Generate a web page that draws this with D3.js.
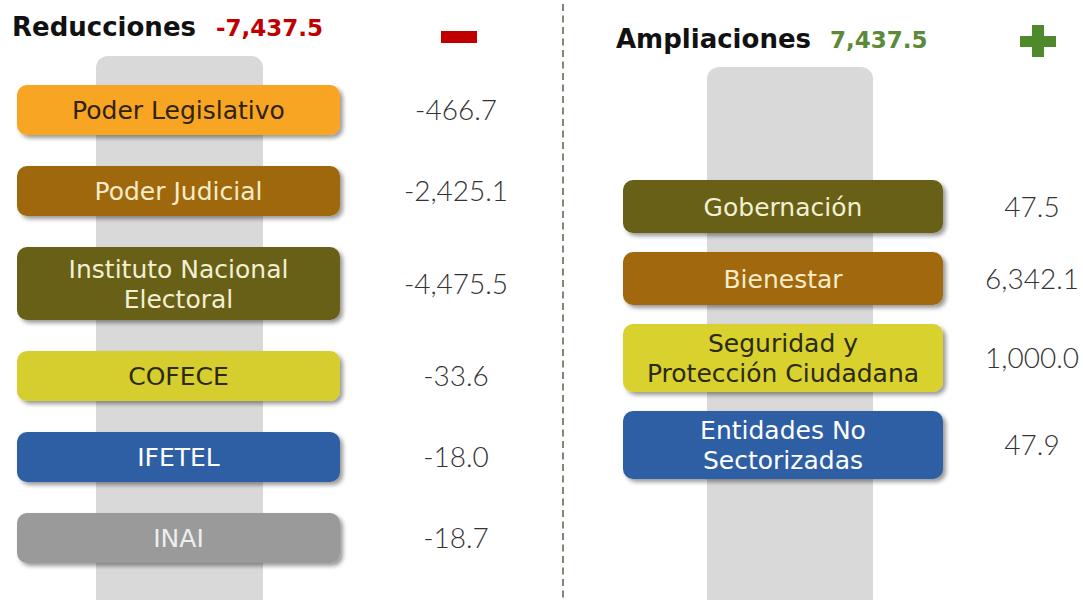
<!DOCTYPE html>
<html>
<head>
<meta charset="utf-8">
<script src="https://cdn.jsdelivr.net/npm/d3@7"></script>
<style>
  body { margin: 0; background: #fff; }
  svg { display: block; }
</style>
</head>
<body>
<div id="chart"></div>
<script>
// Reducciones vs Ampliaciones (millones de pesos)
var svgWidth = 1083;
var svgHeight = 600;

// data
var totalReducciones = -7437.5;
var totalAmpliaciones = 7437.5;

var leftLabels = [["Poder Legislativo"], ["Poder Judicial"], ["Instituto Nacional", "Electoral"], ["COFECE"], ["IFETEL"], ["INAI"]];
var leftValues = [-466.7, -2425.1, -4475.5, -33.6, -18.0, -18.7];
var leftColors = ["#f7a520", "#a0680b", "#676119", "#d5ce2f", "#2d5fa5", "#9a9a9a"];
var leftTextColors = ["#2e2210", "#f6ecc8", "#f3efd2", "#2b2a10", "#ffffff", "#eeeeee"];

var rightLabels = [["Gobernación"], ["Bienestar"], ["Seguridad y", "Protección Ciudadana"], ["Entidades No", "Sectorizadas"]];
var rightValues = [47.5, 6342.1, 1000.0, 47.9];
var rightColors = ["#676119", "#a1680c", "#d8d12f", "#2d5fa5"];
var rightTextColors = ["#f3efd2", "#f6ecc8", "#2b2a10", "#ffffff"];

var fmt = d3.formatLocale({decimal: ".", thousands: ",", grouping: [3], currency: ["$", ""], minus: "-"}).format(",.1f");

var svg = d3.select("#chart")
  .append("svg")
  .attr("width", svgWidth)
  .attr("height", svgHeight);

var defs = svg.append("defs");
defs.append("filter")
  .attr("id", "shadow")
  .attr("x", "-10%").attr("y", "-20%").attr("width", "130%").attr("height", "160%")
  .append("feDropShadow")
  .attr("dx", 3).attr("dy", 3).attr("stdDeviation", 2)
  .attr("flood-color", "#000").attr("flood-opacity", 0.4);

var labelFont = "'DejaVu Sans', sans-serif";
var valueFont = "Lato, 'Open Sans', sans-serif";
var headFont = "'DejaVu Sans', sans-serif";

// column settings
var cols = [
  {labels: leftLabels, values: leftValues, colors: leftColors, text: leftTextColors,
   boxX: 17, boxW: 323, railX: 96, railW: 167, railTop: 56, start: 85,
   single: 50, dbl: 73, gap: 31, valueX: 456},
  {labels: rightLabels, values: rightValues, colors: rightColors, text: rightTextColors,
   boxX: 623, boxW: 320, railX: 707, railW: 166, railTop: 67, start: 180,
   single: 53, dbl: 68, gap: 19, valueX: 1032}
];

cols.forEach(function(col) {
  var heights = col.labels.map(function(l) { return l.length > 1 ? col.dbl : col.single; });
  var tops = heights.map(function(h, i) {
    return col.start + d3.sum(heights.slice(0, i)) + i * col.gap;
  });

  // gray rail behind boxes
  svg.append("rect")
    .attr("x", col.railX).attr("y", col.railTop)
    .attr("width", col.railW).attr("height", svgHeight - col.railTop + 20)
    .attr("rx", 12)
    .attr("fill", "#d9d9d9");

  var g = svg.append("g");
  var rows = g.selectAll(".row")
    .data(col.values)
    .enter()
    .append("g")
    .attr("class", "row")
    .attr("transform", function(d, i) { return "translate(0," + tops[i] + ")"; });

  rows.append("rect")
    .attr("x", col.boxX)
    .attr("width", col.boxW)
    .attr("height", function(d, i) { return heights[i]; })
    .attr("rx", 10)
    .attr("fill", function(d, i) { return col.colors[i]; })
    .attr("filter", "url(#shadow)");

  rows.each(function(d, i) {
    var lines = col.labels[i];
    var t = d3.select(this).append("text")
      .attr("x", col.boxX + col.boxW / 2)
      .attr("text-anchor", "middle")
      .attr("font-family", labelFont)
      .attr("font-size", "25px")
      .attr("fill", col.text[i]);
    var mid = heights[i] / 2;
    var lh = 30;
    lines.forEach(function(line, j) {
      t.append("tspan")
        .attr("x", col.boxX + col.boxW / 2)
        .attr("y", mid + (j - (lines.length - 1) / 2) * lh)
        .attr("dy", "0.36em")
        .text(line);
    });
  });

  rows.append("text")
    .attr("x", col.valueX)
    .attr("y", function(d, i) { return heights[i] / 2; })
    .attr("dy", "0.36em")
    .attr("text-anchor", "middle")
    .attr("font-family", valueFont)
    .attr("font-weight", 300)
    .attr("font-size", "28px")
    .attr("fill", "#333")
    .text(function(d) { return fmt(d); });
});

// headers
var h1 = svg.append("text")
  .attr("x", 12).attr("y", 36)
  .attr("font-family", headFont)
  .attr("font-weight", "bold")
  .attr("font-size", "26px");
h1.append("tspan").attr("fill", "#111").text("Reducciones");
h1.append("tspan").attr("fill", "#c00000").attr("dx", 20).attr("font-size", "23px").text(fmt(totalReducciones));

var h2 = svg.append("text")
  .attr("x", 616).attr("y", 48)
  .attr("font-family", headFont)
  .attr("font-weight", "bold")
  .attr("font-size", "26px");
h2.append("tspan").attr("fill", "#111").text("Ampliaciones");
h2.append("tspan").attr("fill", "#5a8a3a").attr("dx", 19).attr("font-size", "23px").text(fmt(totalAmpliaciones));

// minus / plus icons
svg.append("rect")
  .attr("x", 441).attr("y", 31).attr("width", 36).attr("height", 12)
  .attr("fill", "#c00000");
svg.append("path")
  .attr("d", "M1032,25h12v11h12v11h-12v10h-12v-10h-12v-11h12z")
  .attr("fill", "#4e8a2c");

// divider
svg.append("line")
  .attr("x1", 563).attr("x2", 563)
  .attr("y1", 4).attr("y2", svgHeight)
  .attr("stroke", "#55604a")
  .attr("stroke-width", 1.5)
  .attr("stroke-dasharray", "7,4.5");
</script>
</body>
</html>
